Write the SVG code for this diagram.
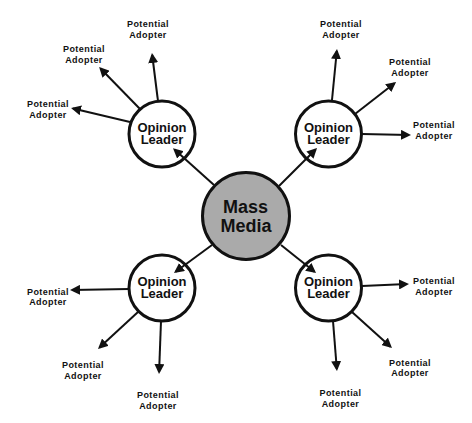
<svg xmlns="http://www.w3.org/2000/svg" width="472" height="423" viewBox="0 0 472 423">
<defs>
<marker id="ah" viewBox="0 0 10 10" refX="8" refY="5" markerWidth="10" markerHeight="10" markerUnits="userSpaceOnUse" orient="auto">
<path d="M0,0 L10,5 L0,10 z" fill="#111"/>
</marker>
</defs>
<style>
.bg{fill:#fff}
.edge{stroke:#111;stroke-width:2;fill:none;marker-end:url(#ah)}
.leader{fill:#fff;stroke:#111;stroke-width:3}
.media{fill:#aaaaaa;stroke:#111;stroke-width:3}
.t1{font-family:"Liberation Sans",Arial,sans-serif;font-weight:bold;font-size:18px;fill:#111;text-anchor:middle}
.t2{font-family:"Liberation Sans",Arial,sans-serif;font-weight:bold;font-size:13px;fill:#111;text-anchor:middle}
.t3{font-family:"Liberation Sans",Arial,sans-serif;font-weight:bold;font-size:9px;letter-spacing:0.45px;fill:#111;text-anchor:middle}
</style>
<rect class="bg" width="472" height="423"/>
<g id="mass-media">
<circle class="media" cx="246" cy="216" r="43.5"/>
<text class="t1" x="245.5" y="213">Mass</text>
<text class="t1" x="246" y="232">Media</text>
</g>
<g id="leader-tl">
<circle class="leader" cx="162" cy="134" r="33"/>
<text class="t2" x="162" y="132">Opinion</text>
<text class="t2" x="162" y="144">Leader</text>
</g>
<g id="leader-tr">
<circle class="leader" cx="328.5" cy="134" r="33"/>
<text class="t2" x="328.5" y="132">Opinion</text>
<text class="t2" x="328.5" y="144">Leader</text>
</g>
<g id="leader-bl">
<circle class="leader" cx="162" cy="288" r="33"/>
<text class="t2" x="162" y="286">Opinion</text>
<text class="t2" x="162" y="298">Leader</text>
</g>
<g id="leader-br">
<circle class="leader" cx="328.5" cy="288" r="33"/>
<text class="t2" x="328.5" y="286">Opinion</text>
<text class="t2" x="328.5" y="298">Leader</text>
</g>
<g id="connectors">
<line class="edge" x1="158" y1="101" x2="152.2" y2="55"/>
<line class="edge" x1="140" y1="109" x2="100.5" y2="68.5"/>
<line class="edge" x1="130" y1="122" x2="73" y2="108.5"/>
<line class="edge" x1="214" y1="185" x2="174.5" y2="149.5"/>
<line class="edge" x1="332" y1="100" x2="336.8" y2="51"/>
<line class="edge" x1="355" y1="114" x2="394.5" y2="83.2"/>
<line class="edge" x1="362" y1="134" x2="409" y2="135"/>
<line class="edge" x1="279" y1="186" x2="315.6" y2="149.5"/>
<line class="edge" x1="129" y1="289" x2="72" y2="290"/>
<line class="edge" x1="138" y1="312" x2="99.5" y2="347.6"/>
<line class="edge" x1="161" y1="321" x2="159.1" y2="372"/>
<line class="edge" x1="212" y1="245" x2="175.6" y2="271.8"/>
<line class="edge" x1="362" y1="286" x2="407" y2="284.1"/>
<line class="edge" x1="352" y1="312" x2="390.5" y2="346.7"/>
<line class="edge" x1="333" y1="321" x2="336.8" y2="369"/>
<line class="edge" x1="281" y1="245" x2="314.5" y2="271.8"/>
</g>
<g id="adopter-a1"><text class="t3" x="148" y="27">Potential</text><text class="t3" x="148" y="37.5">Adopter</text></g>
<g id="adopter-a2"><text class="t3" x="84" y="52">Potential</text><text class="t3" x="84" y="62.5">Adopter</text></g>
<g id="adopter-a3"><text class="t3" x="48" y="107">Potential</text><text class="t3" x="48" y="117.5">Adopter</text></g>
<g id="adopter-b1"><text class="t3" x="341" y="27">Potential</text><text class="t3" x="341" y="37.5">Adopter</text></g>
<g id="adopter-b2"><text class="t3" x="410" y="65">Potential</text><text class="t3" x="410" y="75.5">Adopter</text></g>
<g id="adopter-b3"><text class="t3" x="434" y="128">Potential</text><text class="t3" x="434" y="138.5">Adopter</text></g>
<g id="adopter-c1"><text class="t3" x="48" y="294.5">Potential</text><text class="t3" x="48" y="305">Adopter</text></g>
<g id="adopter-c2"><text class="t3" x="83" y="368">Potential</text><text class="t3" x="83" y="378.5">Adopter</text></g>
<g id="adopter-c3"><text class="t3" x="158" y="398">Potential</text><text class="t3" x="158" y="408.5">Adopter</text></g>
<g id="adopter-d1"><text class="t3" x="434" y="284">Potential</text><text class="t3" x="434" y="294.5">Adopter</text></g>
<g id="adopter-d2"><text class="t3" x="410" y="365.5">Potential</text><text class="t3" x="410" y="376">Adopter</text></g>
<g id="adopter-d3"><text class="t3" x="340.5" y="396">Potential</text><text class="t3" x="340.5" y="406.5">Adopter</text></g>
</svg>
